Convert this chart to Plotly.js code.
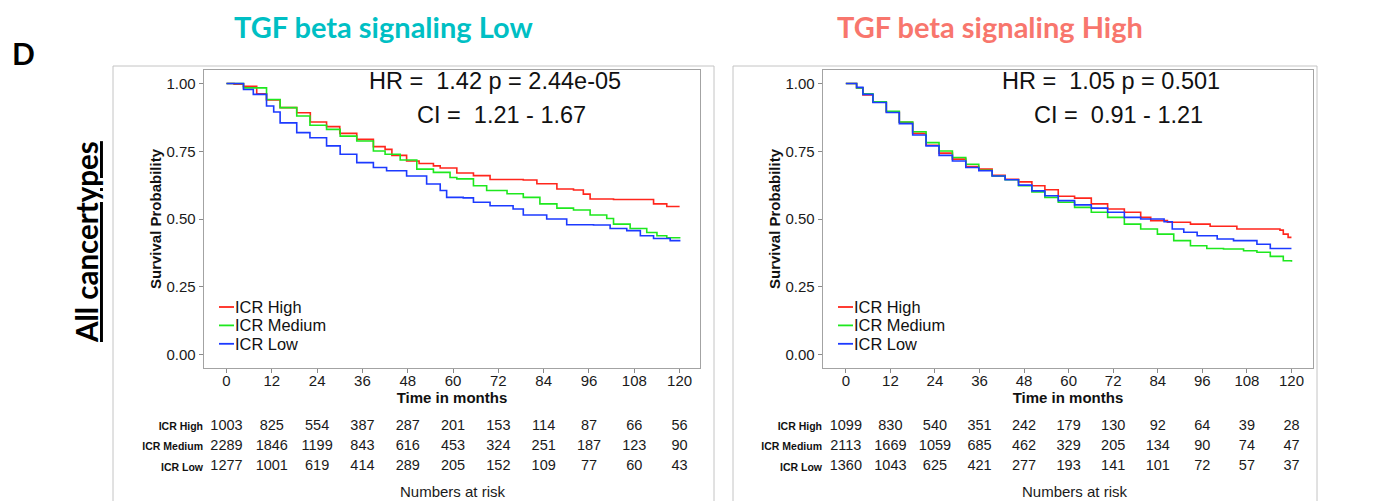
<!DOCTYPE html>
<html>
<head>
<meta charset="utf-8">
<script src="https://cdn.plot.ly/plotly-3.0.1.min.js"></script>
<style>html,body{margin:0;padding:0;background:#fff;}#chart{width:1390px;height:501px;}</style>
</head>
<body>
<div id="chart"></div>
<script>
// ---------- DATA ----------
const groupNames = ['ICR High', 'ICR Medium', 'ICR Low'];
const panelTitles = ['TGF beta signaling Low', 'TGF beta signaling High'];
const hrLines = [['HR =\u00a0 1.42 p = 2.44e-05', 'CI =\u00a0 1.21 - 1.67'],
                 ['HR =\u00a0 1.05 p = 0.501', 'CI =\u00a0 0.91 - 1.21']];
const yTickVals = [0, 0.25, 0.5, 0.75, 1];
const yTickText = ['0.00', '0.25', '0.50', '0.75', '1.00'];
const riskTimes = [0, 12, 24, 36, 48, 60, 72, 84, 96, 108, 120];

// Panel 1: TGF beta signaling Low
const lowHighT = [0,2,4.5,8,10.6,14.2,18.6,22.2,26.5,30,34.5,38.9,42,43.8,47.7,51,54.8,56.6,61,65.4,69.8,78.6,82.2,87.5,91.9,94.5,96.3,102.5,113.1,116.6,120];
const lowHighS = [1,0.998,0.99,0.962,0.939,0.911,0.892,0.858,0.841,0.816,0.794,0.767,0.757,0.735,0.714,0.705,0.696,0.688,0.670,0.660,0.646,0.644,0.630,0.611,0.607,0.592,0.574,0.572,0.556,0.546,0.546];
const lowMedT = [0,4.5,10.6,14.2,18.6,22.1,26.5,30.1,34.5,38.9,42,46,50.4,54.8,59.2,61,65.4,68.9,74.3,78.6,83,87.5,91.9,96.3,100.7,102.5,106.9,111.3,114,116.6,120];
const lowMedS = [1,0.984,0.941,0.911,0.880,0.846,0.831,0.806,0.788,0.751,0.739,0.718,0.684,0.672,0.653,0.648,0.623,0.605,0.593,0.580,0.556,0.540,0.533,0.515,0.502,0.481,0.465,0.450,0.438,0.431,0.428];
const lowLowT = [0,4.5,7.1,10.6,12.5,14.2,18.6,22.1,26.5,30.1,34.5,38.9,42.4,47.7,53,56.6,58.3,62.7,65.4,69.8,75.9,78.6,84.8,90.1,97.2,101.6,106,109.6,113.1,117.5,120];
const lowLowS = [1,0.978,0.960,0.917,0.895,0.855,0.819,0.800,0.770,0.739,0.708,0.690,0.678,0.659,0.629,0.605,0.580,0.578,0.562,0.549,0.537,0.515,0.500,0.479,0.478,0.465,0.457,0.438,0.428,0.420,0.417];

// Panel 2: TGF beta signaling High
const highHighT = [0,2.9,4.6,7.3,10.9,14.4,18,21.6,25.1,28.7,32.3,35.8,39.4,42.9,46.5,50.1,53.6,57.2,61.6,66.1,70.5,75,79.4,82.1,86.6,92.8,98.1,105.3,116.9,117.8,119.1,120];
const highHighS = [1,0.984,0.958,0.931,0.895,0.857,0.816,0.772,0.743,0.721,0.694,0.684,0.661,0.647,0.637,0.623,0.608,0.584,0.577,0.556,0.537,0.525,0.506,0.494,0.488,0.481,0.473,0.463,0.459,0.444,0.432,0.432];
const highMedT = [0,2.9,4.6,7.3,10.9,14.4,18,21.6,25.1,28.7,32.3,35.8,39.4,42.9,46.5,50.1,53.6,57.2,61.6,66.1,70.5,75,79.4,83.9,88.3,92.8,97.2,101.7,107.1,110.7,114.3,117.8,120];
const highMedS = [1,0.984,0.962,0.933,0.898,0.858,0.822,0.782,0.751,0.727,0.702,0.680,0.659,0.645,0.623,0.600,0.580,0.562,0.543,0.525,0.506,0.481,0.463,0.444,0.420,0.401,0.391,0.389,0.383,0.377,0.362,0.346,0.342];
const highLowT = [0,2.9,4.6,7.3,10.9,14.4,18,21.6,25.1,28.7,32.3,35.8,39.4,42.9,46.5,50.1,53.6,57.2,61.6,66.1,70.5,75,79.4,85.7,87.9,91,94.6,100,104.4,110.7,114.3,120];
const highLowS = [1,0.986,0.960,0.930,0.893,0.852,0.810,0.770,0.735,0.714,0.690,0.678,0.659,0.645,0.625,0.604,0.586,0.568,0.552,0.540,0.525,0.506,0.500,0.490,0.463,0.451,0.438,0.426,0.420,0.407,0.391,0.391];

// Numbers at risk
const riskLowHigh = [1003, 825, 554, 387, 287, 201, 153, 114, 87, 66, 56];
const riskLowMed  = [2289, 1846, 1199, 843, 616, 453, 324, 251, 187, 123, 90];
const riskLowLow  = [1277, 1001, 619, 414, 289, 205, 152, 109, 77, 60, 43];
const riskHighHigh = [1099, 830, 540, 351, 242, 179, 130, 92, 64, 39, 28];
const riskHighMed  = [2113, 1669, 1059, 685, 462, 329, 205, 134, 90, 74, 47];
const riskHighLow  = [1360, 1043, 625, 421, 277, 193, 141, 101, 72, 57, 37];

// ---------- STYLE / LAYOUT ----------
const W = 1390, H = 501;
const px = x => x / W;
const py = y => 1 - y / H;
const FONT = 'Liberation Sans, Arial, sans-serif';
const TITLEFONT = 'Lato, Open Sans, sans-serif';
const lineColors = ['rgb(255,38,28)', 'rgb(30,232,30)', 'rgb(28,58,255)'];

const panels = [
  {x: 'x', y: 'y', yr: 'y3', xa: 'xaxis', ya: 'yaxis', yra: 'yaxis3',
   dom: [204, 700], range: [-5.96, 125.4],
   curves: [[lowHighT, lowHighS], [lowMedT, lowMedS], [lowLowT, lowLowS]],
   risk: [riskLowHigh, riskLowMed, riskLowLow],
   box: [113, 714], hr: [[495, 80.5], [501, 115]], legX: 219, risklbl: 453,
   title: [383, 26, '#00BFC4']},
  {x: 'x2', y: 'y2', yr: 'y4', xa: 'xaxis2', ya: 'yaxis2', yra: 'yaxis4',
   dom: [823, 1313], range: [-6.15, 125.8],
   curves: [[highHighT, highHighS], [highMedT, highMedS], [highLowT, highLowS]],
   risk: [riskHighHigh, riskHighMed, riskHighLow],
   box: [733, 1317], hr: [[1111, 80.5], [1118, 115]], legX: 838, risklbl: 1075,
   title: [990, 26, '#F8766D']}
];

const traces = [];
const layout = {
  width: W, height: H,
  margin: {l: 0, r: 0, t: 0, b: 0},
  paper_bgcolor: '#ffffff', plot_bgcolor: '#ffffff',
  showlegend: false,
  font: {family: FONT, color: '#1a1a1a'},
  annotations: [], shapes: []
};

panels.forEach((p, pi) => {
  p.curves.forEach((c, gi) => {
    traces.push({
      type: 'scatter', mode: 'lines', x: c[0], y: c[1],
      xaxis: p.x, yaxis: p.y, name: groupNames[gi],
      line: {color: lineColors[gi], width: 1.6, shape: 'hv'},
      hoverinfo: 'x+y+name'
    });
  });
  p.risk.forEach((r, gi) => {
    traces.push({
      type: 'scatter', mode: 'text', x: riskTimes, y: riskTimes.map(() => gi),
      text: r.map(String), textposition: 'middle center',
      textfont: {family: FONT, size: 14.5, color: '#1a1a1a'},
      xaxis: p.x, yaxis: p.yr, cliponaxis: false, hoverinfo: 'skip',
      name: groupNames[gi] + ' at risk'
    });
  });

  layout[p.xa] = {
    domain: [px(p.dom[0]), px(p.dom[1])], range: p.range, anchor: p.y,
    tickvals: riskTimes, ticks: 'outside', ticklen: 4, tickwidth: 1, tickcolor: '#8a8a8a',
    ticklabelstandoff: -5,
    showline: true, mirror: true, linecolor: '#a3a3a3', linewidth: 1.3,
    showgrid: false, zeroline: false, fixedrange: true,
    tickfont: {family: FONT, size: 15, color: '#1a1a1a'},
    title: {text: '<b>Time in months</b>', font: {family: FONT, size: 15, color: '#111'}, standoff: 3}
  };
  layout[p.ya] = {
    domain: [py(368), py(70)], range: [-0.05, 1.05], anchor: p.x,
    tickvals: yTickVals, ticktext: yTickText, ticks: 'outside', ticklen: 4, tickwidth: 1, tickcolor: '#8a8a8a',
    showline: true, mirror: true, linecolor: '#a3a3a3', linewidth: 1.3,
    showgrid: false, zeroline: false, fixedrange: true,
    tickfont: {family: FONT, size: 15, color: '#1a1a1a'},
    title: {text: '<b>Survival Probability</b>', font: {family: FONT, size: 15, color: '#111'}, standoff: 1}
  };
  layout[p.yra] = {
    domain: [py(477), py(416)], range: [2.5, -0.5], anchor: p.x,
    tickvals: [0, 1, 2], ticktext: groupNames.map(n => '<b>' + n + '</b>'),
    ticks: '', showline: false, showgrid: false, zeroline: false, fixedrange: true,
    tickfont: {family: FONT, size: 10.5, color: '#111'}
  };

  // outer panel frame
  layout.shapes.push({type: 'rect', xref: 'paper', yref: 'paper',
    x0: px(p.box[0]), x1: px(p.box[1]), y0: -0.05, y1: py(66),
    line: {color: '#c4c4c4', width: 1}, fillcolor: 'rgba(0,0,0,0)', layer: 'below'});

  // HR / CI
  p.hr.forEach((pos, k) => {
    layout.annotations.push({xref: 'paper', yref: 'paper', x: px(pos[0]), y: py(pos[1]),
      xanchor: 'center', yanchor: 'middle', showarrow: false, text: hrLines[pi][k],
      font: {family: FONT, size: 23.5, color: '#111'}});
  });

  // legend (manual, inside plot)
  groupNames.forEach((n, gi) => {
    const yy = 307 + gi * 18.4;
    layout.shapes.push({type: 'line', xref: 'paper', yref: 'paper',
      x0: px(p.legX), x1: px(p.legX + 15), y0: py(yy), y1: py(yy),
      line: {color: lineColors[gi], width: 1.8}});
    layout.annotations.push({xref: 'paper', yref: 'paper', x: px(p.legX + 15), y: py(yy),
      xanchor: 'left', yanchor: 'middle', showarrow: false, text: n, borderpad: 0,
      font: {family: FONT, size: 16.4, color: '#111'}});
  });

  // Numbers at risk
  layout.annotations.push({xref: 'paper', yref: 'paper', x: px(p.risklbl), y: py(491),
    xanchor: 'center', yanchor: 'middle', showarrow: false, text: 'Numbers at risk',
    font: {family: FONT, size: 15, color: '#1a1a1a'}});

  // panel title
  layout.annotations.push({xref: 'paper', yref: 'paper', x: px(p.title[0]), y: py(p.title[1]),
    xanchor: 'center', yanchor: 'middle', showarrow: false, text: '<b>' + panelTitles[pi] + '</b>',
    font: {family: TITLEFONT, size: 29, color: p.title[2]}});
});

layout.annotations.push({xref: 'paper', yref: 'paper', x: px(23), y: py(53),
  xanchor: 'center', yanchor: 'middle', showarrow: false, text: '<b>D</b>',
  font: {family: TITLEFONT, size: 30, color: '#000'}});
layout.annotations.push({xref: 'paper', yref: 'paper', x: px(86), y: py(242),
  xanchor: 'center', yanchor: 'middle', showarrow: false, textangle: -90,
  text: '<b><u>All cancertypes</u></b>',
  font: {family: TITLEFONT, size: 29.5, color: '#000'}});

Plotly.newPlot('chart', traces, layout, {staticPlot: true, displayModeBar: false});
</script>
</body>
</html>
